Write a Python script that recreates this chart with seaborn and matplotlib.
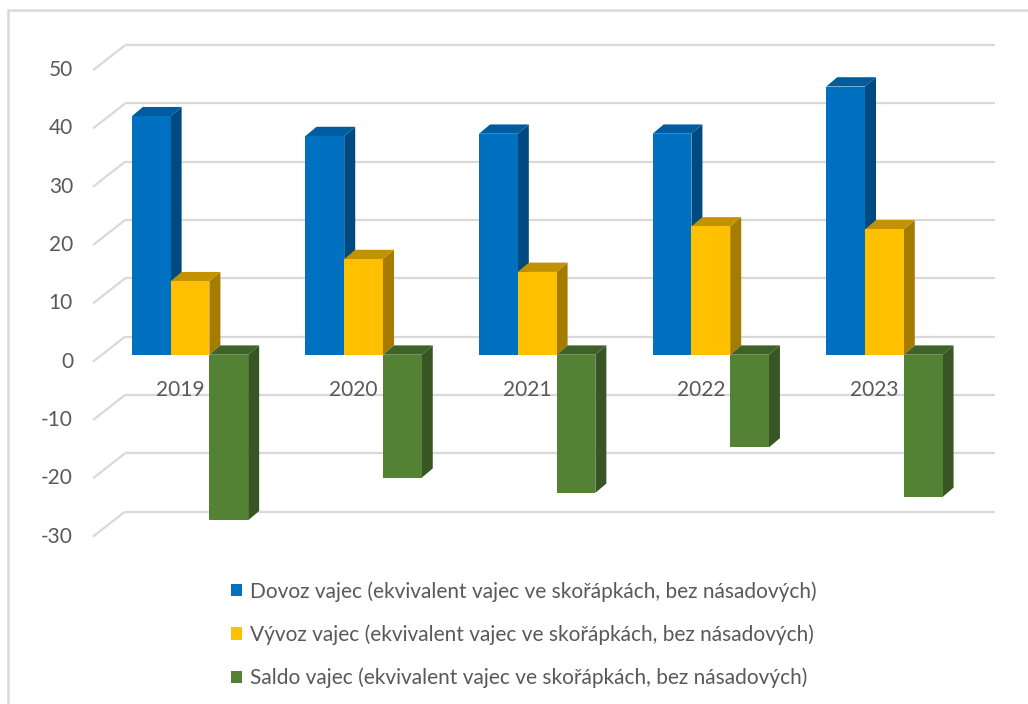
import matplotlib
matplotlib.use("Agg")
import numpy as np
import pandas as pd
import matplotlib.pyplot as plt
from matplotlib.patches import Polygon, Rectangle
import seaborn as sns

# ---- data ----
years = ["2019", "2020", "2021", "2022", "2023"]
dovoz = [40.9, 37.5, 37.9, 37.9, 46.0]
vyvoz = [12.6, 16.4, 14.2, 22.0, 21.5]
saldo = [-28.4, -21.1, -23.7, -15.9, -24.4]
series_names = [
    "Dovoz vajec (ekvivalent vajec ve skořápkách, bez násadových)",
    "Vývoz vajec (ekvivalent vajec ve skořápkách, bez násadových)",
    "Saldo vajec (ekvivalent vajec ve skořápkách, bez násadových)",
]
y_ticks = [-30, -20, -10, 0, 10, 20, 30, 40, 50]

# ---- styles ----
front_cols = ["#0070C0", "#FFC000", "#548235"]
top_cols = ["#005C9E", "#C39200", "#3F6229"]
side_cols = ["#004A7F", "#A67C00", "#375623"]
grid_col = "#D9D9D9"
text_col = "#595959"
FS = 15

df = pd.DataFrame({
    "Rok": years * 3,
    "Řada": [n for n in series_names for _ in years],
    "Hodnota": dovoz + vyvoz + saldo,
})

sns.set_theme(style="white")
plt.rcParams["font.family"] = ["Lato", "DejaVu Sans"]

W, H = 1028, 704
fig = plt.figure(figsize=(W / 100, H / 100), dpi=100)
fig.patch.set_facecolor("white")
ax = fig.add_axes([103.2 / W, (H - 558.75) / H, 868 / W, 524.7 / H])

sns.barplot(data=df, x="Rok", y="Hodnota", hue="Řada", hue_order=series_names,
            palette=front_cols, width=0.67, gap=0, linewidth=0, saturation=1,
            errorbar=None, legend=False, ax=ax)
ax.set_xlim(-0.5, 4.5)
ax.set_ylim(-35, 55)
ax.axis("off")

# pixel <-> data conversion
p0 = ax.transData.transform((0, 0))
p1 = ax.transData.transform((1, 1))
ppx = p1[0] - p0[0]
ppy = p1[1] - p0[1]


def xdata(px):
    return (px - p0[0]) / ppx


# depth offsets (pixels)
bar_dx, bar_dy = 11.0, 9.3
back_dy = 18.0
front_dy = -7.0

# back gridlines with slanted floor/wall edge on the left
for v in y_ticks:
    yb = v + back_dy / ppy
    yf = v + front_dy / ppy
    ax.plot([xdata(125), xdata(995)], [yb, yb], color=grid_col, lw=1.6,
            zorder=0.5, clip_on=False, solid_capstyle="butt")
    ax.plot([xdata(93), xdata(125)], [yf, yb], color=grid_col, lw=1.6,
            zorder=0.5, clip_on=False, solid_capstyle="butt")
    ax.text(xdata(73), yf, str(v), ha="right", va="center", fontsize=FS,
            color=text_col, clip_on=False)

# category labels
for i, yr in enumerate(years):
    ax.text(i - 10 / ppx, -35 / ppy, yr, ha="center", va="center",
            fontsize=FS, color=text_col, zorder=1)

# faux 3D faces
bars = []
for s, cont in enumerate(ax.containers):
    for bar in cont:
        bars.append((bar.get_x(), s, bar))
bars.sort(key=lambda t: t[0])
ddx = bar_dx / ppx
ddy = bar_dy / ppy
for k, (x0, s, bar) in enumerate(bars):
    w = bar.get_width()
    y0 = bar.get_y()
    h = bar.get_height()
    yt = max(y0, y0 + h)
    yb = min(y0, y0 + h)
    z = 2 + 0.01 * k
    top = Polygon([(x0, yt), (x0 + w, yt), (x0 + w + ddx, yt + ddy), (x0 + ddx, yt + ddy)],
                  closed=True, facecolor=top_cols[s], edgecolor="none", zorder=z, clip_on=False)
    side = Polygon([(x0 + w, yb), (x0 + w, yt), (x0 + w + ddx, yt + ddy), (x0 + w + ddx, yb + ddy)],
                   closed=True, facecolor=side_cols[s], edgecolor="none", zorder=z, clip_on=False)
    ax.add_patch(side)
    ax.add_patch(top)
    bar.set_zorder(z + 0.005)
    bar.set_clip_on(False)

# legend
handles = [Rectangle((0, 0), 1, 1, facecolor=c, edgecolor="none") for c in front_cols]
fig.legend(handles, series_names, loc="upper left",
           bbox_to_anchor=(231 / W, (H - 581) / H), frameon=False, fontsize=FS,
           labelcolor=text_col, handlelength=0.52, handleheight=0.52,
           handletextpad=0.4, labelspacing=1.09, borderpad=0, borderaxespad=0)

# outer chart border
fig.patches.append(Rectangle((8 / W, -0.05), 1.2, (H - 10) / H + 0.05,
                             transform=fig.transFigure, fill=False,
                             edgecolor=grid_col, lw=1.8))

fig.savefig("out.png", dpi=100, facecolor="white")
